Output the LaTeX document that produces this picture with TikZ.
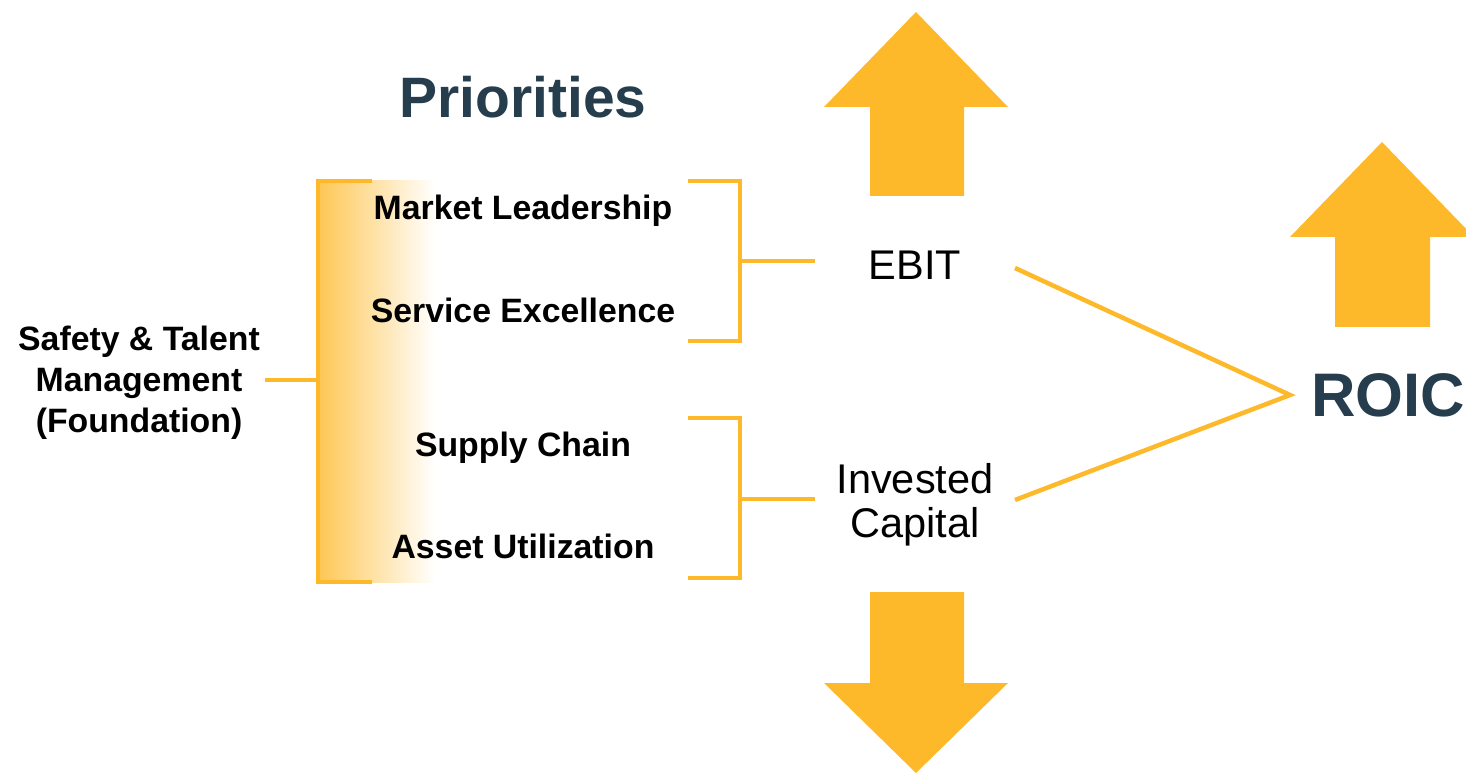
\documentclass[tikz,border=0pt]{standalone}
\usepackage{fontspec}
\setmainfont{Liberation Sans}
\definecolor{myorange}{HTML}{FDB92A}
\definecolor{mydark}{HTML}{263D4D}
\begin{document}
\begin{tikzpicture}[x=1pt,y=-1pt,
  lbl/.style={font=\fontsize{33.8}{41}\selectfont\bfseries, text=black, align=center, inner sep=0pt},
  metric/.style={font=\fontsize{41.5}{44}\selectfont, text=black, align=center, inner sep=0pt},
  title/.style={font=\fontsize{57}{60}\selectfont\bfseries, text=mydark, inner sep=0pt},
  conn/.style={draw=myorange, line width=4.5pt},
  bigarrow/.style={fill=myorange, draw=none}]
\useasboundingbox (0,0) rectangle (1466,775);
% gradient behind big bracket
\shade[left color=myorange!80, right color=white, draw=none] (318,181) rectangle (435,582);
% texts
\node[title] (prio) at (523,97) {Priorities};
\node[lbl] (ml) at (523,211) {Market Leadership};
\node[lbl] (se) at (523,310) {Service Excellence};
\node[lbl] (sc) at (523,448) {Supply Chain};
\node[lbl] (au) at (523,546) {Asset Utilization};
\node[lbl] (found) at (139,383) {Safety \& Talent\\Management\\(Foundation)};
\node[metric] (ebit) at (915,265) {EBIT};
\node[metric] (ic) at (915,505) {Invested\\Capital};
\node[title, font=\fontsize{61.5}{66}\selectfont\bfseries] (roic) at (1388,395) {ROIC};
% big bracket
\coordinate (bt) at (318,181);
\coordinate (bb) at (318,582);
\coordinate (bm) at (318,380);
\draw[conn, line cap=butt] (372,181) -- (bt) -- (bb) -- (372,582);
\draw[conn] (265,380) -- (bm);
% top right bracket
\coordinate (t1) at (740,181);
\coordinate (t2) at (740,341);
\coordinate (tm) at (740,261);
\draw[conn] (688,181) -- (t1) -- (t2) -- (688,341);
\draw[conn] (tm) -- (815,261);
% bottom right bracket
\coordinate (u1) at (740,418);
\coordinate (u2) at (740,578);
\coordinate (um) at (740,499);
\draw[conn] (688,418) -- (u1) -- (u2) -- (688,578);
\draw[conn] (um) -- (815,499);
% lines to ROIC
\coordinate (apex) at (1290,395);
\coordinate (ebitend) at (1015,268);
\coordinate (icend) at (1015,500);
\draw[conn] (ebitend) -- (apex) -- (icend);
% arrows
\fill[bigarrow] (916,12) -- (1008,107) -- (964,107) -- (964,196) -- (870,196) -- (870,107) -- (824,107) -- cycle;
\fill[bigarrow] (1382,142) -- (1474,237) -- (1430,237) -- (1430,327) -- (1335,327) -- (1335,237) -- (1290,237) -- cycle;
\fill[bigarrow] (916,773) -- (1008,683) -- (964,683) -- (964,592) -- (870,592) -- (870,683) -- (824,683) -- cycle;
\end{tikzpicture}
\end{document}
